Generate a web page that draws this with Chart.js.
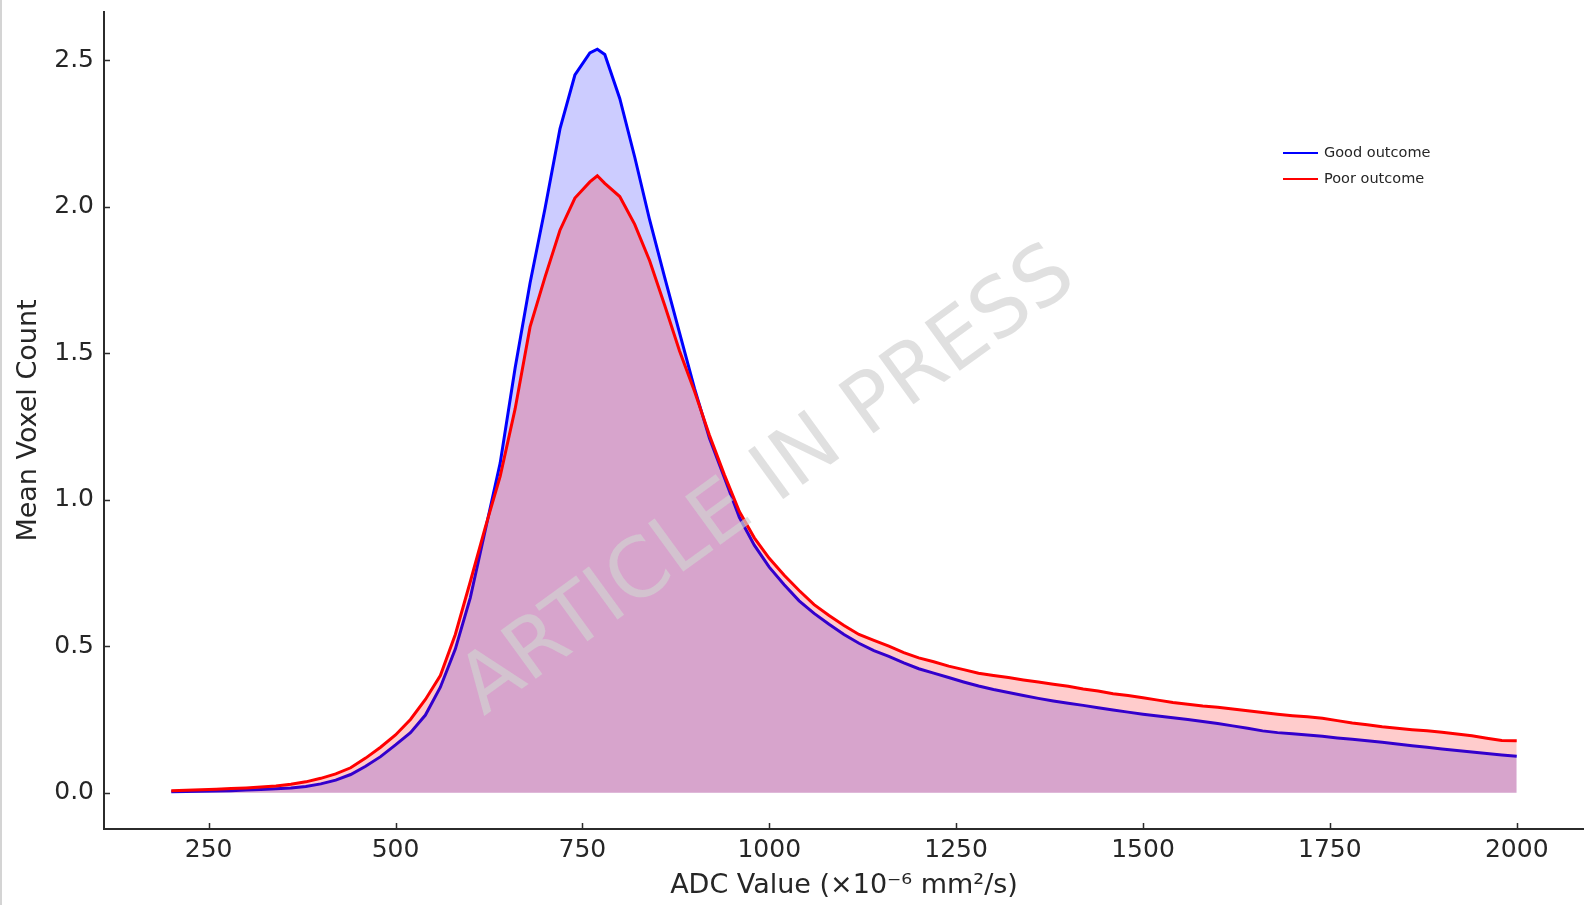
<!DOCTYPE html>
<html>
<head>
<meta charset="utf-8">
<script src="https://cdn.jsdelivr.net/npm/chart.js@4.4.1/dist/chart.umd.min.js"></script>
<style>
  html, body { margin: 0; padding: 0; background: #ffffff; }
  #wrap { position: relative; width: 1584px; height: 905px; overflow: hidden; }
  #edge { position: absolute; left: 0; top: 0; width: 2px; height: 905px; background: #d4d4d4; }
</style>
</head>
<body>
<div id="wrap">
  <canvas id="c" width="1584" height="905"></canvas>
  <div id="edge"></div>
</div>
<script>
// ---- data ----
const adcValues = [200,220,240,260,280,300,320,340,360,380,400,420,440,460,480,500,520,540,560,580,
  600,620,640,660,680,700,720,740,760,770,780,800,820,840,860,880,900,920,940,960,980,
  1000,1020,1040,1060,1080,1100,1120,1140,1160,1180,1200,1220,1240,1260,1280,1300,1320,1340,1360,1380,
  1400,1420,1440,1460,1480,1500,1520,1540,1560,1580,1600,1620,1640,1660,1680,1700,1720,1740,1760,1780,
  1800,1820,1840,1860,1880,1900,1920,1940,1960,1980,2000];

const goodOutcome = [0.003,0.004,0.005,0.006,0.007,0.009,0.011,0.013,0.016,0.021,0.030,0.043,0.062,0.090,0.123,0.163,0.205,0.265,0.360,0.490,
  0.665,0.895,1.125,1.450,1.740,1.994,2.266,2.450,2.525,2.538,2.520,2.370,2.170,1.955,1.760,1.570,1.380,1.210,1.075,0.940,0.845,
  0.770,0.710,0.655,0.612,0.575,0.540,0.510,0.485,0.465,0.443,0.423,0.408,0.393,0.378,0.364,0.352,0.342,0.332,0.322,0.313,
  0.305,0.298,0.290,0.282,0.275,0.268,0.262,0.256,0.250,0.243,0.236,0.228,0.220,0.211,0.205,0.201,0.197,0.193,0.187,0.182,
  0.177,0.172,0.166,0.160,0.155,0.149,0.144,0.139,0.134,0.129,0.124];

const poorOutcome = [0.007,0.008,0.010,0.012,0.014,0.016,0.019,0.023,0.029,0.037,0.049,0.064,0.085,0.118,0.155,0.197,0.250,0.318,0.400,0.540,
  0.720,0.905,1.080,1.310,1.590,1.760,1.920,2.030,2.085,2.106,2.080,2.035,1.940,1.816,1.665,1.508,1.370,1.220,1.085,0.960,0.870,
  0.800,0.742,0.690,0.642,0.605,0.571,0.540,0.520,0.500,0.478,0.460,0.447,0.432,0.420,0.408,0.400,0.393,0.385,0.378,0.370,
  0.363,0.354,0.347,0.338,0.332,0.324,0.316,0.308,0.302,0.296,0.292,0.286,0.280,0.274,0.268,0.263,0.259,0.254,0.246,0.238,
  0.232,0.225,0.220,0.215,0.211,0.206,0.200,0.194,0.186,0.178,0.177];

const xTicks = [250,500,750,1000,1250,1500,1750,2000];
const yTicks = [0.0,0.5,1.0,1.5,2.0,2.5];
const seriesLabels = ['Good outcome','Poor outcome'];
const xTitle = 'ADC Value (×10⁻⁶ mm²/s)';
const yTitle = 'Mean Voxel Count';
const watermarkText = 'ARTICLE IN PRESS';

const toPoints = (ys) => adcValues.map((x, i) => ({x: x, y: ys[i]}));
const axisColor = '#2b2b2b';
const textColor = '#262626';
const FONT = '"DejaVu Sans", sans-serif';

const inwardTicks = {
  id: 'inwardTicks',
  afterDraw(chart) {
    const ctx = chart.ctx, xs = chart.scales.x, ys = chart.scales.y, a = chart.chartArea;
    ctx.save();
    ctx.strokeStyle = axisColor;
    ctx.lineWidth = 1.5;
    ctx.beginPath();
    xTicks.forEach(v => { const p = Math.round(xs.getPixelForValue(v)) + 0.5; ctx.moveTo(p, a.bottom); ctx.lineTo(p, a.bottom - 6); });
    yTicks.forEach(v => { const p = Math.round(ys.getPixelForValue(v)) + 0.5; ctx.moveTo(a.left, p); ctx.lineTo(a.left + 6, p); });
    ctx.stroke();
    ctx.restore();
  }
};

const customLegend = {
  id: 'customLegend',
  afterDraw(chart) {
    const ctx = chart.ctx;
    ctx.save();
    const rows = [153, 179];
    chart.data.datasets.forEach((ds, i) => {
      const y = rows[i];
      ctx.strokeStyle = ds.borderColor;
      ctx.lineWidth = 2;
      ctx.beginPath(); ctx.moveTo(1283, y); ctx.lineTo(1318, y); ctx.stroke();
      ctx.fillStyle = textColor;
      ctx.font = '14.5px ' + FONT;
      ctx.textBaseline = 'middle';
      ctx.textAlign = 'left';
      ctx.fillText(ds.label, 1324, y);
    });
    ctx.restore();
  }
};

const watermark = {
  id: 'watermark',
  afterDraw(chart) {
    const ctx = chart.ctx;
    ctx.save();
    ctx.translate(769, 483);
    ctx.rotate(-36 * Math.PI / 180);
    ctx.font = '82px ' + FONT;
    ctx.fillStyle = 'rgba(210,210,210,0.68)';
    ctx.textAlign = 'center';
    ctx.textBaseline = 'middle';
    ctx.fillText(watermarkText, 0, 0);
    ctx.restore();
  }
};

new Chart(document.getElementById('c'), {
  type: 'line',
  data: {
    datasets: [
      { label: seriesLabels[0], data: toPoints(goodOutcome), borderColor: '#0000ff', backgroundColor: 'rgba(0,0,255,0.2)',
        fill: 'origin', borderWidth: 3, pointRadius: 0, tension: 0, order: 2 },
      { label: seriesLabels[1], data: toPoints(poorOutcome), borderColor: '#ff0000', backgroundColor: 'rgba(255,0,0,0.2)',
        fill: 'origin', borderWidth: 3, pointRadius: 0, tension: 0, order: 1 }
    ]
  },
  options: {
    responsive: false,
    animation: false,
    layout: { padding: { top: 12, left: 0, right: 0, bottom: 0 } },
    plugins: { legend: { display: false }, tooltip: { enabled: false } },
    scales: {
      x: {
        type: 'linear', min: 110, max: 2090,
        afterBuildTicks: (s) => { s.ticks = xTicks.map(v => ({value: v})); },
        afterFit: (s) => { s.height = 76; s.paddingLeft = 0; s.paddingRight = 0; },
        grid: { display: false },
        border: { display: true, color: axisColor, width: 2 },
        ticks: { color: textColor, padding: -2, font: { family: FONT, size: 25 },
                 callback: (v) => String(v), maxRotation: 0, autoSkip: false },
        title: { display: true, text: xTitle, color: textColor, padding: { top: 0, bottom: 3 },
                 font: { family: FONT, size: 27 } }
      },
      y: {
        type: 'linear', min: -0.124, max: 2.665,
        afterBuildTicks: (s) => { s.ticks = yTicks.map(v => ({value: v})); },
        afterFit: (s) => { s.width = 104; s.paddingTop = 0; s.paddingBottom = 0; },
        grid: { display: false },
        border: { display: true, color: axisColor, width: 2 },
        ticks: { color: textColor, padding: 2, font: { family: FONT, size: 25 },
                 callback: (v) => v.toFixed(1), autoSkip: false },
        title: { display: true, text: yTitle, color: textColor, padding: { top: 13, bottom: 0 },
                 font: { family: FONT, size: 27 } }
      }
    }
  },
  plugins: [inwardTicks, customLegend, watermark]
});
</script>
</body>
</html>
